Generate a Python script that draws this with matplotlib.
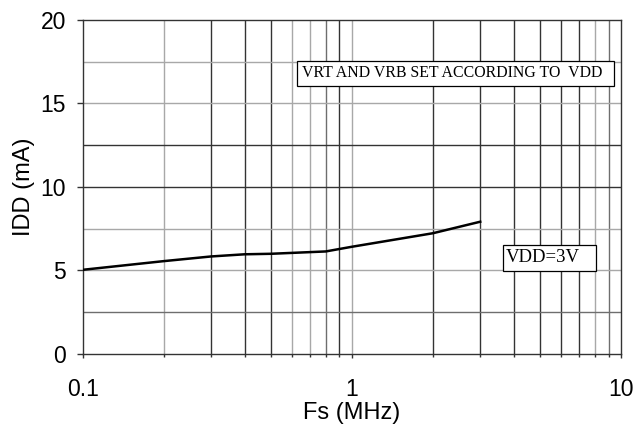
import matplotlib
matplotlib.use('Agg')
import matplotlib.pyplot as plt
from matplotlib.patches import Rectangle

# values
fs_mhz = [0.1, 0.2, 0.3, 0.4, 0.5, 0.8, 1, 2, 3]
idd_ma = [5.04, 5.56, 5.84, 5.97, 6.0, 6.14, 6.42, 7.23, 7.92]

x_ticks = [0.1, 1, 10]
x_tick_labels = ['0.1', '1', '10']
y_ticks = [0, 5, 10, 15, 20]
y_tick_labels = ['0', '5', '10', '15', '20']

x_grid = [0.2, 0.3, 0.4, 0.5, 0.6, 0.7, 0.8, 0.9, 1, 2, 3, 4, 5, 6, 7, 8, 9]
y_grid = [2.5, 5, 7.5, 10, 12.5, 15, 17.5]

note_top = 'VRT AND VRB SET ACCORDING TO  VDD'
note_vdd = 'VDD=3V'

dark = '#333333'
light = '#a8a8a8'
mid = '#6e6e6e'
x_grid_col = [light, dark, dark, dark, light, light, mid, dark, light,
              dark, dark, dark, dark, dark, dark, light, mid]
y_grid_col = [mid, light, light, dark, dark, light, light]

plt.rcParams['font.family'] = ['Liberation Sans', 'DejaVu Sans']

fig = plt.figure(figsize=(6.34, 4.32), dpi=100)
ax = fig.add_axes([0.1304, 0.1806, 0.849, 0.7731])

ax.set_xscale('log')
ax.set_xlim(0.1, 10)
ax.set_ylim(0, 20)

for v, c in zip(x_grid, x_grid_col):
    ax.axvline(v, color=c, linewidth=1.0, zorder=1)
for v, c in zip(y_grid, y_grid_col):
    ax.axhline(v, color=c, linewidth=1.0, zorder=1)

ax.plot(fs_mhz, idd_ma, color='black', linewidth=1.8, zorder=3)

# note boxes
ax.add_patch(Rectangle((0.3987, 0.8024), 0.5889, 0.0757, transform=ax.transAxes,
                       facecolor='white', edgecolor='black', linewidth=0.9, zorder=4))
ax.text(0.4068, 0.840, note_top, transform=ax.transAxes, ha='left', va='center',
        fontsize=11.4, family='Liberation Serif', zorder=5)
ax.add_patch(Rectangle((0.7813, 0.2494), 0.1723, 0.0769, transform=ax.transAxes,
                       facecolor='white', edgecolor='black', linewidth=0.9, zorder=4))
ax.text(0.786, 0.2877, note_vdd, transform=ax.transAxes, ha='left', va='center',
        fontsize=13.5, family='Liberation Serif', zorder=5)

ax.set_xticks(x_ticks)
ax.set_xticklabels(x_tick_labels)
ax.set_xticks(x_grid, minor=True)
ax.set_xticklabels([], minor=True)
ax.set_yticks(y_ticks)
ax.set_yticklabels(y_tick_labels)

ax.tick_params(axis='x', which='major', length=3.2, width=1, color=dark, pad=14, labelsize=16.5)
ax.tick_params(axis='x', which='minor', length=2.5, width=1, color=dark)
ax.tick_params(axis='y', which='major', length=4, width=1, color=dark, pad=8, labelsize=16.5)

for s in ax.spines.values():
    s.set_color(dark)
    s.set_linewidth(1.0)

ax.set_xlabel('Fs (MHz)', fontsize=17, labelpad=1)
ax.set_ylabel('IDD (mA)', fontsize=17, labelpad=4)

fig.savefig('out.png', dpi=100)
